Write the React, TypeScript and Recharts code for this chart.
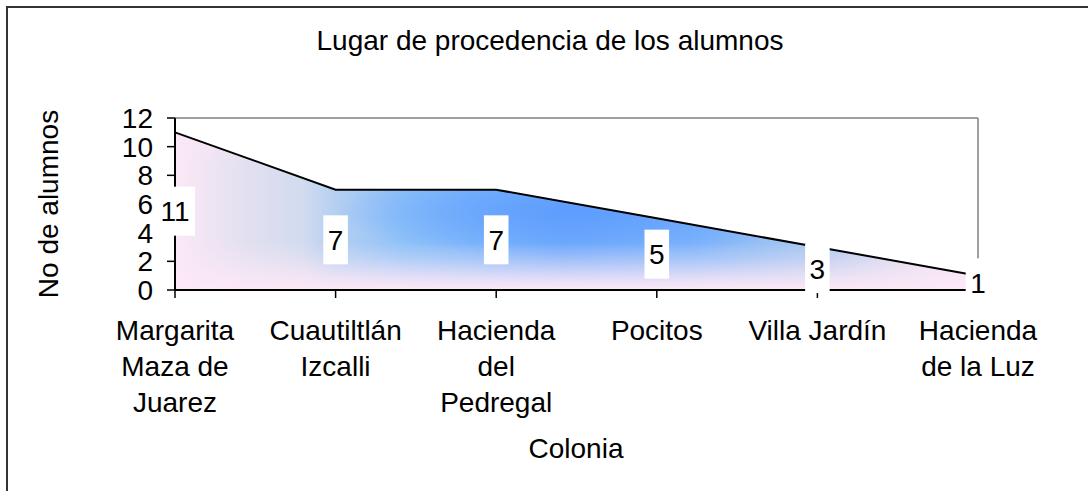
import {
  ComposedChart,
  Area,
  Line,
  XAxis,
  YAxis,
  ReferenceLine,
  LabelList,
} from 'recharts'

const categories = [
  'Margarita Maza de Juarez',
  'Cuautiltlán Izcalli',
  'Hacienda del Pedregal',
  'Pocitos',
  'Villa Jardín',
  'Hacienda de la Luz',
]
const tickLines = [
  ['Margarita', 'Maza de', 'Juarez'],
  ['Cuautiltlán', 'Izcalli'],
  ['Hacienda', 'del', 'Pedregal'],
  ['Pocitos'],
  ['Villa Jardín'],
  ['Hacienda', 'de la Luz'],
]
const alumnos = [11, 7, 7, 5, 3, 1]
const yTicks = [0, 2, 4, 6, 8, 10, 12]

const data = categories.map((name, i) => ({
  name,
  alumnos: alumnos[i],
  mitad: alumnos[i] / 2,
}))

const FONT = '"Liberation Sans", Arial, sans-serif'
const FS = 28
const PINK = '#fce8f6'
const BLUE = '#5b9bff'

function XTick(props: any) {
  const { x, y, payload } = props
  const idx = categories.indexOf(payload.value)
  const lines = tickLines[idx] || [payload.value]
  return (
    <text x={x} y={y} textAnchor="middle" fontSize={FS} fill="#000" fontFamily={FONT}>
      {lines.map((l, i) => (
        <tspan key={i} x={x} dy={i === 0 ? 40 : 36}>
          {l}
        </tspan>
      ))}
    </text>
  )
}

function BoxLabel(props: any) {
  const x = props.x ?? props.viewBox?.x
  const y = props.y ?? props.viewBox?.y
  const txt = String(props.value)
  const w = txt.length * 0.556 * FS + 9
  const h = 49
  return (
    <g>
      <rect x={x - w / 2} y={y - h / 2} width={w} height={h} fill="#fff" />
      <text x={x} y={y} dy="0.36em" textAnchor="middle" fontSize={FS} fill="#000" fontFamily={FONT}>
        {txt}
      </text>
    </g>
  )
}

export default function App() {
  return (
    <div
      style={{
        position: 'absolute',
        left: 0,
        top: 0,
        width: 1088,
        height: 491,
        overflow: 'hidden',
        background: '#fff',
        fontFamily: FONT,
      }}
    >
      {/* outer frame, runs off the right and bottom edges */}
      <div
        style={{
          position: 'absolute',
          left: 6,
          top: 6,
          width: 1120,
          height: 520,
          border: '2px solid #333',
        }}
      />

      <div
        style={{
          position: 'absolute',
          left: 250,
          top: 27,
          width: 600,
          textAlign: 'center',
          fontSize: FS,
          lineHeight: `${FS}px`,
          color: '#000',
        }}
      >
        Lugar de procedencia de los alumnos
      </div>

      <div
        style={{
          position: 'absolute',
          left: 49 - 150,
          top: 204 - FS / 2,
          width: 300,
          height: FS,
          textAlign: 'center',
          fontSize: FS,
          lineHeight: `${FS}px`,
          color: '#000',
          transform: 'rotate(-90deg)',
        }}
      >
        No de alumnos
      </div>

      <div
        style={{
          position: 'absolute',
          left: 576 - 150,
          top: 435,
          width: 300,
          textAlign: 'center',
          fontSize: FS,
          lineHeight: `${FS}px`,
          color: '#000',
        }}
      >
        Colonia
      </div>

      <div style={{ position: 'absolute', left: 0, top: 0 }}>
        <ComposedChart
          width={1088}
          height={491}
          data={data}
          margin={{ top: 118, right: 110, bottom: 51, left: 95 }}
        >
          <defs>
            {/* colours across the middle of the area */}
            <linearGradient id="hz" x1="0" y1="0" x2="1" y2="0">
              <stop offset="0" stopColor={PINK} />
              <stop offset="0.09" stopColor="#e2e0f0" />
              <stop offset="0.16" stopColor="#d2dbef" />
              <stop offset="0.2" stopColor="#b4cff2" />
              <stop offset="0.28" stopColor="#92c3f8" />
              <stop offset="0.38" stopColor="#7fb8fa" />
              <stop offset="0.48" stopColor="#74adfb" />
              <stop offset="0.65" stopColor="#80b6fa" />
              <stop offset="0.8" stopColor="#aac8f0" />
              <stop offset="0.9" stopColor="#d8dcf0" />
              <stop offset="1" stopColor={PINK} />
            </linearGradient>
            {/* deeper blue toward the centre */}
            <radialGradient id="core" cx="0.5" cy="0.5" r="0.5">
              <stop offset="0" stopColor={BLUE} stopOpacity={0.9} />
              <stop offset="0.3" stopColor={BLUE} stopOpacity={0.5} />
              <stop offset="0.6" stopColor={BLUE} stopOpacity={0} />
              <stop offset="1" stopColor={BLUE} stopOpacity={0} />
            </radialGradient>
            {/* pink fading in toward the base */}
            <linearGradient id="vt" x1="0" y1="0" x2="0" y2="1">
              <stop offset="0" stopColor={PINK} stopOpacity={0.5} />
              <stop offset="0.2" stopColor={PINK} stopOpacity={0} />
              <stop offset="0.7" stopColor={PINK} stopOpacity={0} />
              <stop offset="0.8" stopColor={PINK} stopOpacity={0.3} />
              <stop offset="0.88" stopColor={PINK} stopOpacity={0.62} />
              <stop offset="0.95" stopColor={PINK} stopOpacity={0.88} />
              <stop offset="1" stopColor={PINK} stopOpacity={1} />
            </linearGradient>
          </defs>
          <XAxis
            dataKey="name"
            scale="point"
            interval={0}
            height={150}
            tickSize={8}
            tickMargin={2}
            axisLine={{ stroke: '#000', strokeWidth: 2 }}
            tickLine={{ stroke: '#000', strokeWidth: 1.5 }}
            tick={<XTick />}
          />
          <YAxis
            domain={[0, 12]}
            ticks={yTicks}
            interval={0}
            width={80}
            tickSize={8}
            tickMargin={14}
            axisLine={{ stroke: '#000', strokeWidth: 2 }}
            tickLine={{ stroke: '#000', strokeWidth: 1.5 }}
            tick={{ fill: '#000', fontSize: FS, fontFamily: FONT }}
          />
          <ReferenceLine y={12} stroke="#808080" strokeWidth={1.5} />
          <ReferenceLine x={categories[categories.length - 1]} stroke="#808080" strokeWidth={1.5} />
          <Area
            type="linear"
            dataKey="alumnos"
            fill="url(#hz)"
            fillOpacity={1}
            stroke="none"
            isAnimationActive={false}
          />
          <Area
            type="linear"
            dataKey="alumnos"
            fill="url(#core)"
            fillOpacity={1}
            stroke="none"
            isAnimationActive={false}
          />
          <Area
            type="linear"
            dataKey="alumnos"
            fill="url(#vt)"
            fillOpacity={1}
            stroke="none"
            isAnimationActive={false}
          />
          <Line
            type="linear"
            dataKey="alumnos"
            stroke="#000"
            strokeWidth={2}
            dot={false}
            isAnimationActive={false}
          />
          <Line
            type="linear"
            dataKey="mitad"
            stroke="none"
            dot={false}
            isAnimationActive={false}
          >
            <LabelList dataKey="alumnos" content={<BoxLabel />} />
          </Line>
        </ComposedChart>
      </div>
    </div>
  )
}
